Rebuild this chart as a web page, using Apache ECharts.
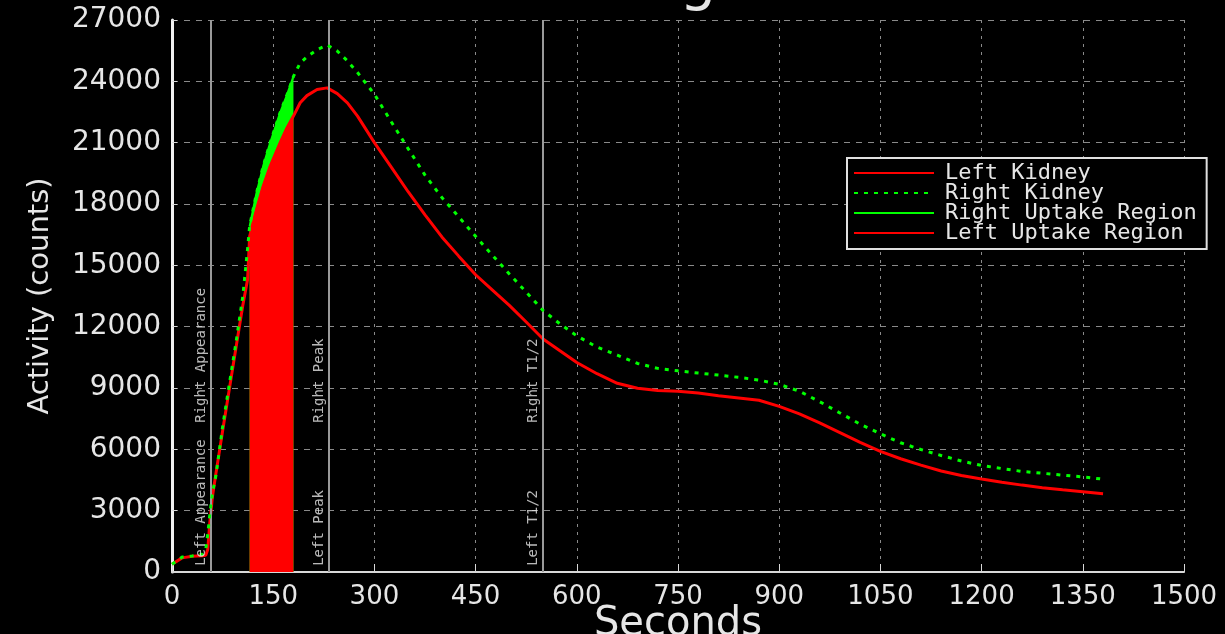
<!DOCTYPE html>
<html>
<head>
<meta charset="utf-8">
<script src="https://cdn.jsdelivr.net/npm/echarts@6/dist/echarts.min.js"></script>
<style>
  html, body { margin: 0; padding: 0; background: #000; }
  #chart { width: 1225px; height: 634px; }
</style>
</head>
<body>
<div id="chart"></div>
<script>
// Renogram time-activity curves (seconds vs counts)
const seconds = [0, 15, 30, 45, 50, 53, 56, 60, 65, 75, 85, 95, 105, 112, 115, 125, 135, 145, 160, 170, 180,
  190, 200, 215, 230, 245, 260, 275, 300, 325, 350, 375, 400, 425, 450, 475, 500, 525, 550, 575, 600,
  630, 660, 690, 720, 750, 780, 810, 840, 870, 900, 930, 960, 990, 1020, 1050, 1080, 1110, 1140, 1170,
  1200, 1230, 1260, 1290, 1320, 1350, 1380];

const leftKidney = [380, 690, 770, 800, 820, 1100, 2400, 3700, 4800, 6900, 8950, 11000, 13050, 14300, 16400,
  17700, 18860, 19800, 20980, 21700, 22300, 22950, 23300, 23600, 23680, 23400, 22950, 22300, 21000, 19800,
  18600, 17470, 16390, 15450, 14540, 13790, 13040, 12230, 11400, 10820, 10250, 9700, 9230, 8990, 8880,
  8845, 8750, 8620, 8510, 8400, 8100, 7730, 7290, 6820, 6340, 5900, 5540, 5230, 4940, 4720, 4550, 4390,
  4250, 4125, 4020, 3925, 3830];

const rightKidney = [380, 730, 780, 870, 1100, 1850, 2800, 3880, 4700, 7100, 9200, 11250, 13500, 15800, 16900,
  18500, 19840, 20950, 22450, 23300, 24240, 24900, 25200, 25550, 25780, 25480, 25000, 24430, 23370, 22020,
  20710, 19410, 18320, 17370, 16420, 15490, 14580, 13690, 12790, 12140, 11550, 11000, 10610, 10200, 9960,
  9840, 9730, 9630, 9520, 9390, 9180, 8840, 8330, 7780, 7230, 6760, 6320, 5990, 5700, 5430, 5210, 5060,
  4920, 4830, 4740, 4650, 4540];

// Uptake window (seconds)
const uptakeWindow = [115, 180];

// Event markers: time in seconds, left/right annotation text and where each text starts (counts)
const markerSeconds = [57, 233, 550];
const markerLeftText = ['Left Appearance', 'Left Peak', 'Left T1/2'];
const markerRightText = ['Right Appearance', 'Right Peak', 'Right T1/2'];
const leftLabelStart = 300;
const rightLabelStart = 7300;

const xTicks = { min: 0, max: 1500, interval: 150 };
const yTicks = { min: 0, max: 27000, interval: 3000 };

const RED = '#ff0000';
const GREEN = '#00ff00';
const TXT = '#e6e6e6';

const pairs = (vals) => seconds.map((t, i) => [t, vals[i]]);
const inWindow = (vals) => pairs(vals)
  .filter(p => p[0] >= uptakeWindow[0] && p[0] <= uptakeWindow[1]);

const markerTexts = [];
markerSeconds.forEach((t, i) => {
  markerTexts.push([t, leftLabelStart, markerLeftText[i]]);
  markerTexts.push([t, rightLabelStart, markerRightText[i]]);
});

const chart = echarts.init(document.getElementById('chart'), null, { renderer: 'canvas' });

chart.setOption({
  backgroundColor: '#000',
  animation: false,
  title: {
    text: 'Renogram',
    left: 678,
    textAlign: 'center',
    top: -50,
    textStyle: { color: TXT, fontFamily: 'DejaVu Sans', fontSize: 58, fontWeight: 'normal' }
  },
  grid: { left: 172, right: 41, top: 20, bottom: 62, containLabel: false, outerBoundsMode: 'none' },
  legend: {
    orient: 'vertical',
    left: 847,
    top: 158,
    padding: [4, 10, 5, 6],
    itemGap: -2,
    itemWidth: 80,
    itemHeight: 14,
    backgroundColor: '#000',
    borderColor: '#e0e0e0',
    borderWidth: 2,
    borderRadius: 0,
    selectedMode: false,
    itemStyle: { opacity: 0 },
    textStyle: { color: TXT, fontFamily: 'DejaVu Sans Mono', fontSize: 22, lineHeight: 19, padding: [0, 0, 0, 6] },
    data: ['Left Kidney', 'Right Kidney', 'Right Uptake Region', 'Left Uptake Region']
  },
  xAxis: {
    type: 'value',
    min: xTicks.min, max: xTicks.max, interval: xTicks.interval,
    name: 'Seconds',
    nameLocation: 'middle',
    nameGap: 33,
    nameMoveOverlap: false,
    nameTextStyle: { color: TXT, fontFamily: 'DejaVu Sans', fontSize: 40 },
    axisLine: { lineStyle: { color: '#d8d8d8', width: 2 } },
    axisTick: { inside: true, length: 8, lineStyle: { color: '#d8d8d8', width: 1 } },
    axisLabel: { color: TXT, fontFamily: 'DejaVu Sans', fontSize: 26, margin: 12, formatter: v => String(v) },
    splitLine: { show: true, lineStyle: { color: '#8a8a8a', width: 1, type: [3, 5] } }
  },
  yAxis: {
    type: 'value',
    min: yTicks.min, max: yTicks.max, interval: yTicks.interval,
    name: 'Activity (counts)',
    nameLocation: 'middle',
    nameGap: 117,
    nameRotate: 90,
    nameMoveOverlap: false,
    nameTextStyle: { color: TXT, fontFamily: 'DejaVu Sans', fontSize: 29 },
    axisLine: { show: true, lineStyle: { color: '#f0f0f0', width: 3 } },
    axisTick: { inside: true, length: 5, lineStyle: { color: '#d8d8d8', width: 1 } },
    axisLabel: { color: TXT, fontFamily: 'DejaVu Sans', fontSize: 28, margin: 11, formatter: v => String(v) },
    splitLine: { show: true, lineStyle: { color: '#8a8a8a', width: 1, type: [6, 6] } }
  },
  series: [
    {
      name: 'Right Uptake Region',
      type: 'line',
      data: inWindow(rightKidney),
      symbol: 'none',
      z: 2,
      lineStyle: { color: GREEN, width: 2 },
      itemStyle: { color: GREEN },
      areaStyle: { color: GREEN, opacity: 1 }
    },
    {
      name: 'Left Uptake Region',
      type: 'line',
      data: inWindow(leftKidney),
      symbol: 'none',
      z: 3,
      lineStyle: { color: RED, width: 2 },
      itemStyle: { color: RED },
      areaStyle: { color: RED, opacity: 1 }
    },
    {
      name: 'Left Kidney',
      type: 'line',
      data: pairs(leftKidney),
      symbol: 'none',
      z: 4,
      lineStyle: { color: RED, width: 3 },
      itemStyle: { color: RED },
      markLine: {
        silent: true,
        symbol: 'none',
        animation: false,
        lineStyle: { color: '#9a9a9a', width: 2, type: 'solid' },
        label: { show: false },
        data: markerSeconds.map(t => ({ xAxis: t }))
      }
    },
    {
      name: 'Right Kidney',
      type: 'line',
      data: pairs(rightKidney),
      symbol: 'none',
      z: 5,
      lineStyle: { color: GREEN, width: 3, type: [4, 6] },
      itemStyle: { color: GREEN }
    },
    {
      name: 'Markers',
      type: 'scatter',
      data: markerTexts,
      symbol: 'circle',
      symbolSize: 1,
      silent: true,
      z: 6,
      itemStyle: { color: 'rgba(0,0,0,0)' },
      label: {
        show: true,
        formatter: p => p.value[2],
        position: 'left',
        distance: 2,
        rotate: 90,
        align: 'left',
        verticalAlign: 'bottom',
        color: TXT,
        fontFamily: 'DejaVu Sans Mono',
        fontSize: 14
      }
    }
  ]
});
</script>
</body>
</html>
